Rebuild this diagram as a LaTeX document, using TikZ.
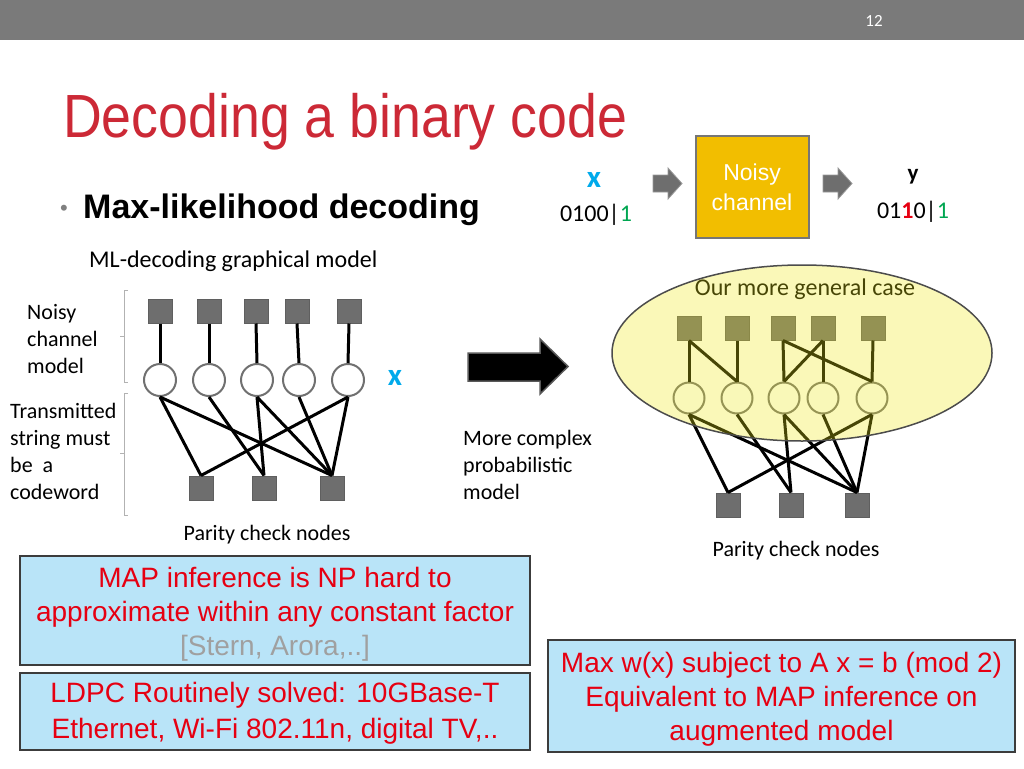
\documentclass[tikz,border=0pt]{standalone}
\usepackage{fontspec}
\setmainfont{Carlito}
\newfontfamily\arial{Liberation Sans}
\newfontfamily\titlefont[FakeStretch=0.88]{Liberation Sans}
\definecolor{barg}{RGB}{122,122,122}
\definecolor{titlered}{RGB}{204,41,54}
\definecolor{xblue}{RGB}{0,170,235}
\definecolor{bgreen}{RGB}{0,166,81}
\definecolor{boxred}{RGB}{230,0,18}
\definecolor{lblue}{RGB}{185,228,248}
\definecolor{sqgray}{RGB}{110,110,110}
\definecolor{sqborder}{RGB}{95,95,95}
\definecolor{circborder}{RGB}{112,112,112}
\definecolor{gold}{RGB}{242,190,0}
\definecolor{ellfill}{RGB}{238,232,21}
\definecolor{boxborder}{RGB}{60,60,60}
\definecolor{stern}{RGB}{160,160,160}
\tikzset{
  sq/.style={rectangle, draw=sqborder, fill=sqgray, minimum size=24pt, inner sep=0pt, line width=1pt},
  vc/.style={circle, draw=circborder, fill=white, minimum size=32pt, inner sep=0pt, line width=2pt},
  vcr/.style={vc, minimum size=31pt},
  edge/.style={line width=3pt, black},
  lbl/.style={inner sep=0pt, font=\fontsize{22}{27}\selectfont, align=left},
  bluebox/.style={draw=boxborder, fill=lblue, line width=2pt, inner sep=0pt},
  boxtext/.style={inner sep=0pt, align=center, text=boxred, font=\arial\fontsize{28}{34}\selectfont},
  blockarrow/.style={fill=sqgray, draw=gray!80, line width=0.8pt},
  brk/.style={draw=gray!60, line width=1pt}
}
\begin{document}
\begin{tikzpicture}[x=1pt,y=-1pt]
\useasboundingbox (0,0) rectangle (1024,768);
% top bar
\fill[barg] (0,0) rectangle (1024,40);
\node[text=white, font=\fontsize{17}{20}\selectfont] (pg) at (874,21) {12};
% title
\node[anchor=base west, inner sep=0pt, text=titlered, font=\titlefont\fontsize{61}{70}\selectfont] (title) at (63,137) {Decoding a binary code};
\node[anchor=base, inner sep=0pt, text=gray, font=\arial\fontsize{22}{24}\selectfont] (bul) at (64,215) {•};
\node[anchor=base west, inner sep=0pt, font=\arial\bfseries\fontsize{34}{40}\selectfont] (ml) at (83,218) {Max-likelihood decoding};
\node[anchor=base west, inner sep=0pt, font=\fontsize{24}{28}\selectfont] (mlg) at (89,267) {ML-decoding graphical model};

% left graph
\node[sq] (T1) at (160,311) {};
\node[sq] (T2) at (209,311) {};
\node[sq] (T3) at (256,311) {};
\node[sq] (T4) at (297,311) {};
\node[sq] (T5) at (349,311) {};
\node[vc] (V1) at (160,380) {};
\node[vc] (V2) at (209,380) {};
\node[vc] (V3) at (257,380) {};
\node[vc] (V4) at (299,380) {};
\node[vc] (V5) at (348,380) {};
\node[sq] (B1) at (201,488) {};
\node[sq] (B2) at (264,488) {};
\node[sq] (B3) at (332,488) {};
\foreach \i in {1,...,5} {\draw[edge] (T\i.south) -- (V\i.north);}
\draw[edge] (V1.south) -- (B1.north);
\draw[edge] (V1.south) -- (B3.north);
\draw[edge] (V2.south) -- (B2.north);
\draw[edge] (V3.south) -- (B2.north);
\draw[edge] (V3.south) -- (B3.north);
\draw[edge] (V4.south) -- (B3.north);
\draw[edge] (V5.south) -- (B1.north);
\draw[edge] (V5.south) -- (B3.north);
\node[text=xblue, font=\bfseries\fontsize{31}{34}\selectfont] (xl) at (395,378) {x};
% brackets
\draw[brk] (128,290) -- (124,290) -- (124,382) -- (128,382);
\draw[brk] (124,336) -- (120,336);
\draw[brk] (128,393) -- (124,393) -- (124,515) -- (128,515);
\draw[brk] (124,453) -- (120,453);
\node[lbl, anchor=north west] (ncm) at (27,304) {Noisy\\channel\\model};
\node[lbl, anchor=north west] (tsm) at (10,403) {Transmitted\\string must\\be\ \ a\\codeword};
\node[font=\fontsize{22}{26}\selectfont] (pcl) at (267,535) {Parity check nodes};

% middle arrow
\draw[fill=black, draw=gray!70!black, line width=1.5pt] (468,353) -- (540,353) -- (540,339) -- (568,366.5) -- (540,394) -- (540,381) -- (468,381) -- cycle;
\node[lbl, anchor=north west] (mcp) at (463,430) {More complex\\probabilistic\\model};

% channel
\node[text=xblue, font=\bfseries\fontsize{31}{34}\selectfont] (xt) at (594,180) {x};
\node[font=\fontsize{24}{28}\selectfont] (xs) at (596,215) {0100|\textcolor{bgreen}{1}};
\draw[blockarrow] (653,175) -- (668,175) -- (668,168) -- (682,183.5) -- (668,199) -- (668,192) -- (653,192) -- cycle;
\node[draw=boxborder!70, fill=gold, line width=2pt, minimum width=113pt, minimum height=102pt, inner sep=0pt, align=center, text=white, font=\arial\fontsize{23}{30}\selectfont] (ch) at (752,187) {Noisy\\channel};
\draw[blockarrow] (823,175) -- (838,175) -- (838,168) -- (852,183.5) -- (838,199) -- (838,192) -- (823,192) -- cycle;
\node[font=\bfseries\fontsize{23}{26}\selectfont] (yt) at (913,177) {y};
\node[font=\fontsize{24}{28}\selectfont] (ys) at (913,212) {01\textcolor{boxred}{\bfseries 1}0|\textcolor{bgreen}{1}};

% right graph
\node[font=\fontsize{24}{28}\selectfont] (omg) at (805,289) {Our more general case};
\node[sq] (U1) at (689,328) {};
\node[sq] (U2) at (737,328) {};
\node[sq] (U3) at (783,328) {};
\node[sq] (U4) at (823,328) {};
\node[sq] (U5) at (873,328) {};
\node[vcr] (W1) at (689,398) {};
\node[vcr] (W2) at (737,398) {};
\node[vcr] (W3) at (784,398) {};
\node[vcr] (W4) at (823,398) {};
\node[vcr] (W5) at (872,398) {};
\node[sq] (C1) at (728,505) {};
\node[sq] (C2) at (791,505) {};
\node[sq] (C3) at (857,505) {};
\foreach \i in {1,...,5} {\draw[edge] (U\i.south) -- (W\i.north);}
\draw[edge] (U1.south) -- (W2.north);
\draw[edge] (U3.south) -- (W5.north);
\draw[edge] (U4.south) -- (W3.north);
\draw[edge] (W1.south) -- (C1.north);
\draw[edge] (W1.south) -- (C3.north);
\draw[edge] (W2.south) -- (C2.north);
\draw[edge] (W3.south) -- (C2.north);
\draw[edge] (W3.south) -- (C3.north);
\draw[edge] (W4.south) -- (C3.north);
\draw[edge] (W5.south) -- (C1.north);
\draw[edge] (W5.south) -- (C3.north);
\path[fill=ellfill, fill opacity=0.3, draw=gray!60!black, draw opacity=1, line width=1.5pt] (802,353) ellipse [x radius=190, y radius=88];
\node[font=\fontsize{22}{26}\selectfont] (pcr) at (796,551) {Parity check nodes};

% blue boxes
\node[bluebox, minimum width=510pt, minimum height=109pt] (np) at (275,610.5) {};
\node[boxtext] (npt) at (275,614) {MAP inference is NP hard to\\approximate within any constant factor\\\textcolor{stern}{[Stern, Arora,..]}};
\node[bluebox, minimum width=510pt, minimum height=77pt] (ldpc) at (275,711.5) {};
\node[boxtext, font=\arial\fontsize{28}{36}\selectfont] (ldpct) at (275,713) {LDPC Routinely solved: 10GBase-T\\Ethernet, Wi-Fi 802.11n, digital TV,..};
\node[bluebox, minimum width=467pt, minimum height=112pt] (mx) at (781.5,696) {};
\node[boxtext] (mxt) at (781.5,699.5) {Max w(x) subject to A x = b (mod 2)\\Equivalent to MAP inference on\\augmented model};
\end{tikzpicture}
\end{document}
